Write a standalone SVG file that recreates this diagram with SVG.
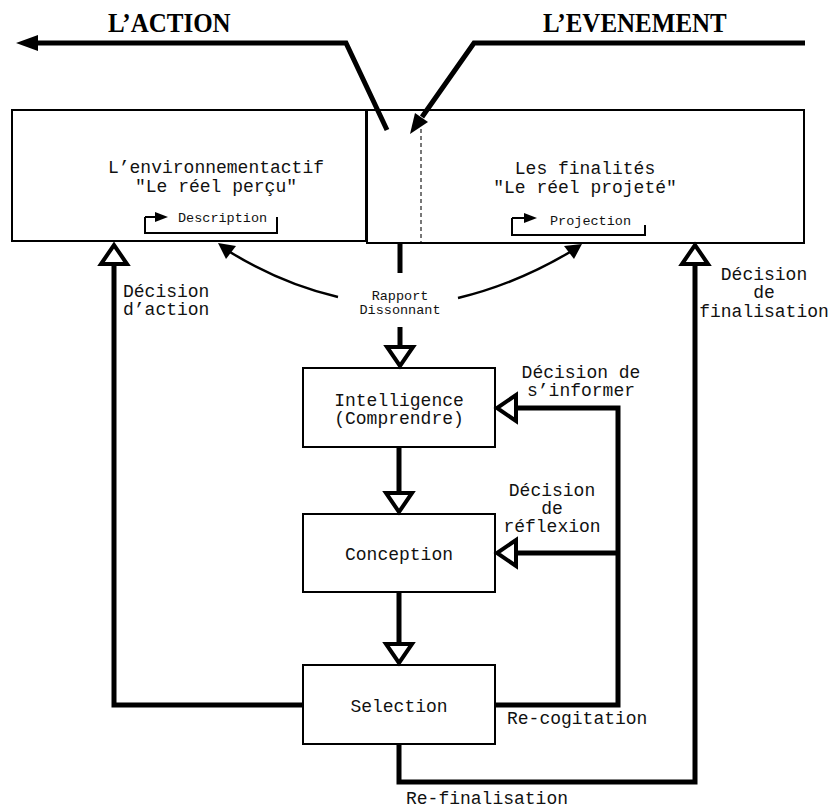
<svg xmlns="http://www.w3.org/2000/svg" width="834" height="808" viewBox="0 0 834 808">
<style>
.box{fill:#fff;stroke:#000;stroke-width:2}
.thick{fill:none;stroke:#000;stroke-width:5}
.thin{fill:none;stroke:#000;stroke-width:2}
.curve{fill:none;stroke:#000;stroke-width:2.5}
.hollow{fill:#fff;stroke:#000;stroke-width:4;stroke-linejoin:miter}
.head{fill:#000;stroke:none}
.m{font-family:"Liberation Mono","Courier New",monospace;font-size:18px;fill:#111;text-anchor:middle}
.ml{font-family:"Liberation Mono","Courier New",monospace;font-size:18px;fill:#111}
.s{font-family:"Liberation Mono","Courier New",monospace;font-size:13.5px;fill:#111}
.big{font-family:"Liberation Serif","Times New Roman",serif;font-weight:bold;font-size:25px;fill:#000}
</style>
<defs>
<path id="tri" d="M-13,-19 L13,-19 L0,0 Z" class="hollow"/>
</defs>
<rect width="834" height="808" fill="#fff"/>

<g id="titles">
<text class="big" transform="translate(108,32) scale(1,1.12)">L’ACTION</text>
<text class="big" transform="translate(543,32) scale(1,1.12)">L’EVENEMENT</text>
</g>

<g id="env">
<rect class="box" x="12" y="110" width="354" height="131"/>
<text class="m" x="216" y="173">L’environnementactif</text>
<text class="m" x="216" y="192">"Le réel perçu"</text>
<path class="thin" d="M145,217 V233 H277 V217"/>
<path class="thin" d="M145,217 H157"/>
<polygon class="head" points="168,217 155,212 155,222"/>
<text class="s" x="178" y="222">Description</text>
</g>

<g id="finalites">
<rect class="box" x="367" y="110" width="437" height="133"/>
<line x1="421" y1="122" x2="421" y2="242" stroke="#777" stroke-width="2" stroke-dasharray="4,3"/>
<text class="m" x="585" y="174">Les finalités</text>
<text class="m" x="585" y="193">"Le réel projeté"</text>
<path class="thin" d="M512,218 V235 H645 V225"/>
<path class="thin" d="M512,218 H526"/>
<polygon class="head" points="537,218 524,213 524,223"/>
<text class="s" x="550" y="225">Projection</text>
</g>

<g id="intelligence">
<rect class="box" x="303" y="368" width="192" height="79"/>
<text class="m" x="399" y="406">Intelligence</text>
<text class="m" x="399" y="424">(Comprendre)</text>
</g>

<g id="conception">
<rect class="box" x="303" y="514" width="192" height="78"/>
<text class="m" x="399" y="560">Conception</text>
</g>

<g id="selection">
<rect class="box" x="303" y="665" width="192" height="79"/>
<text class="m" x="399" y="712">Selection</text>
</g>

<g id="connectors">
<path class="thick" d="M387,130 L346,43 H36"/>
<polygon class="head" points="16,43 38,35 38,51"/>
<path class="thick" d="M805,43 H474 L422,117"/>
<polygon class="head" points="410,134 428,122 415,113"/>

<path class="curve" d="M338,297 Q282,284 230,252"/>
<polygon class="head" points="218,243 236,246 226,259"/>
<path class="curve" d="M458,298 Q516,284 570,252"/>
<polygon class="head" points="582,244 574,259 564,246"/>

<path class="thick" d="M400,243 V273"/>
<path class="thick" d="M400,327 V350"/>
<use href="#tri" transform="translate(400,366)"/>
<path class="thick" d="M399,447 V495"/>
<use href="#tri" transform="translate(399,512)"/>
<path class="thick" d="M399,592 V646"/>
<use href="#tri" transform="translate(399,663)"/>

<path class="thick" d="M303,705 H114 V262"/>
<use href="#tri" transform="translate(114,245) rotate(180)"/>
<path class="thick" d="M399,744 V782 H695 V262"/>
<use href="#tri" transform="translate(695,245) rotate(180)"/>

<path class="thick" d="M495,705 H618 V408 H514"/>
<use href="#tri" transform="translate(497,408) rotate(90)"/>
<path class="thick" d="M618,553 H514"/>
<use href="#tri" transform="translate(497,553) rotate(90)"/>
</g>

<g id="labels">
<text class="s" x="400" y="300" text-anchor="middle" font-size="13">Rapport</text>
<text class="s" x="400" y="314" text-anchor="middle" font-size="13">Dissonnant</text>
<text class="ml" x="123" y="297">Décision</text>
<text class="ml" x="123" y="315">d’action</text>
<text class="m" x="764" y="280" font-size="17">Décision</text>
<text class="m" x="764" y="298" font-size="17">de</text>
<text class="m" x="764" y="317" font-size="17">finalisation</text>
<text class="m" x="581" y="378">Décision de</text>
<text class="m" x="581" y="396">s’informer</text>
<text class="m" x="552" y="496">Décision</text>
<text class="m" x="552" y="514">de</text>
<text class="m" x="552" y="532">réflexion</text>
<text class="ml" x="507" y="724">Re-cogitation</text>
<text class="m" x="487" y="804">Re-finalisation</text>
</g>
</svg>
